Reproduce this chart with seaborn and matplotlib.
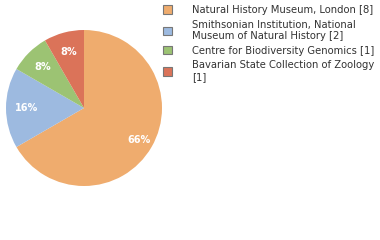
import math
import matplotlib
matplotlib.use("Agg")
import matplotlib.pyplot as plt
import seaborn as sns
from matplotlib.patches import Patch

sns.set_style("white")
plt.rcParams['font.family'] = ['DejaVu Sans']

labels = ["Natural History Museum, London [8]",
          "Smithsonian Institution, National\nMuseum of Natural History [2]",
          "Centre for Biodiversity Genomics [1]",
          "Bavarian State Collection of Zoology\n[1]"]
values = [8, 2, 1, 1]
colors = ["#EFAC6E", "#9DBAE0", "#9CC373", "#DB7359"]

fig = plt.figure(figsize=(3.8, 2.4), dpi=100)
ax = fig.add_axes([(84 - 78) / 380, (132 - 78) / 240, 156 / 380, 156 / 240])
wedges, texts, autotexts = ax.pie(
    values, colors=colors, startangle=90, counterclock=False,
    autopct=lambda p: f"{int(math.floor(p + 1e-9))}%", pctdistance=0.74,
    wedgeprops=dict(linewidth=0),
    textprops=dict(color="white", fontsize=7, fontweight="bold"))
ax.set_aspect("equal")
ax.set_xlim(-1, 1)
ax.set_ylim(-1, 1)
x, y = autotexts[0].get_position()
autotexts[0].set_position((x * 0.81 / 0.74, y * 0.81 / 0.74))

handles = [Patch(facecolor=c, edgecolor="#777777", linewidth=0.8) for c in colors]
fig.legend(handles, labels, loc="upper left", bbox_to_anchor=(160 / 380, 1.0 - 2 / 240),
           frameon=False, fontsize=7.2, handlelength=0.9, handleheight=0.9,
           handletextpad=2.0, labelspacing=0.45, labelcolor="#333333",
           borderaxespad=0, borderpad=0.3)
fig.savefig("out.png", dpi=100)
